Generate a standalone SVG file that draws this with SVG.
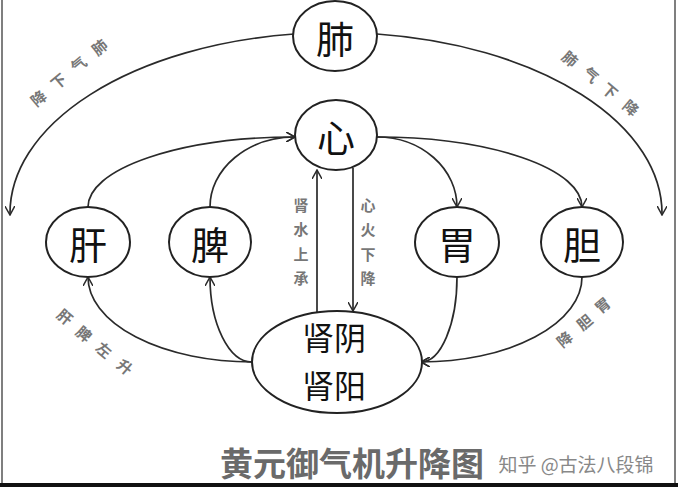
<svg xmlns="http://www.w3.org/2000/svg" width="678" height="487" viewBox="0 0 678 487">
<style>
.node{fill:#fff;stroke:#222;stroke-width:2}
.lbl{font-family:"Noto Sans CJK SC","Noto Sans",sans-serif;fill:#111;text-anchor:middle;dominant-baseline:central}
.con{fill:none;stroke:#2a2a2a;stroke-width:1.7}
.small{font-family:"Noto Sans CJK SC",sans-serif;fill:#777;font-size:15px;font-weight:700;text-anchor:middle;dominant-baseline:central}
</style>
<defs>
<marker id="ah" viewBox="0 0 10 10" refX="9" refY="5" markerWidth="10" markerHeight="10" markerUnits="userSpaceOnUse" orient="auto">
<path d="M0,0 L9,5 L0,10" fill="none" stroke="#2a2a2a" stroke-width="1.5"/>
</marker>
</defs>
<rect x="0" y="0" width="678" height="487" fill="#fff"/>
<g id="frame" stroke="#555" fill="none">
<line x1="2" y1="0" x2="2" y2="484" stroke-width="1.5"/>
<line x1="675" y1="0" x2="675" y2="484" stroke-width="1.5"/>
<rect x="0" y="483" width="678" height="4" fill="#111" stroke="none"/>
</g>
<g id="connectors">
<path class="con" d="M294 34 A326 181 0 0 0 10 215" marker-end="url(#ah)"/>
<path class="con" d="M377 34 A326 181 0 0 1 662 215" marker-end="url(#ah)"/>
<path class="con" d="M88 207 A207 70 0 0 1 295 137" marker-end="url(#ah)"/>
<path class="con" d="M210 207 A85 70 0 0 1 295 137" marker-end="url(#ah)"/>
<path class="con" d="M377 137 A80 70 0 0 1 457 207" marker-end="url(#ah)"/>
<path class="con" d="M377 137 A205 70 0 0 1 582 207" marker-end="url(#ah)"/>
<path class="con" d="M317 312 L317 170" marker-end="url(#ah)"/>
<path class="con" d="M353 168 L353 311" marker-end="url(#ah)"/>
<path class="con" d="M252 362 A164 85 0 0 1 88 277" marker-end="url(#ah)"/>
<path class="con" d="M252 362 A42 85 0 0 1 210 277" marker-end="url(#ah)"/>
<path class="con" d="M457 277 A36 85 0 0 1 421 362" marker-end="url(#ah)"/>
<path class="con" d="M582 277 A161 85 0 0 1 421 362" marker-end="url(#ah)"/>
</g>
<g id="labels">
<text class="small" x="105 84 64 44" y="50 67 84 101" rotate="-40 -40 -40 -40">肺气下降</text>
<text class="small" x="568 589 608 629" y="52 68 84 101" rotate="40 40 40 40">肺气下降</text>
<text class="small" x="63 82 102 123" y="310 327 343 360" rotate="40 40 40 40">肝脾左升</text>
<text class="small" x="608 590 570" y="308 325 342" rotate="-40 -40 -40">胃胆降</text>
<text class="small" x="301 301 301 301" y="204 228 253 277">肾水上承</text>
<text class="small" x="368 368 368 368" y="204 228 253 277">心火下降</text>
</g>
<g id="fei"><ellipse class="node" cx="335" cy="36" rx="42" ry="35"/><text class="lbl" x="335" y="36" font-size="38">肺</text></g>
<g id="xin"><ellipse class="node" cx="336" cy="135" rx="41" ry="35"/><text class="lbl" x="336" y="135" font-size="38">心</text></g>
<g id="gan"><ellipse class="node" cx="88" cy="242" rx="42" ry="35"/><text class="lbl" x="88" y="242" font-size="38">肝</text></g>
<g id="pi"><ellipse class="node" cx="210" cy="242" rx="41" ry="35"/><text class="lbl" x="210" y="242" font-size="38">脾</text></g>
<g id="wei"><ellipse class="node" cx="457" cy="242" rx="42" ry="35"/><text class="lbl" x="457" y="242" font-size="38">胃</text></g>
<g id="dan"><ellipse class="node" cx="582" cy="242" rx="41" ry="35"/><text class="lbl" x="582" y="242" font-size="38">胆</text></g>
<g id="shen"><ellipse class="node" cx="337" cy="362" rx="85" ry="51"/>
<text class="lbl" x="334" y="336" font-size="32">肾阴</text>
<text class="lbl" x="334" y="384" font-size="32">肾阳</text></g>
<g id="caption">
<text x="352" y="462" font-family="'Noto Sans CJK SC',sans-serif" font-size="33" font-weight="700" fill="#6a6a6a" text-anchor="middle" dominant-baseline="central">黄元御气机升降图</text>
<text x="576" y="463" font-family="'Noto Sans CJK SC',sans-serif" font-size="19" fill="#888" text-anchor="middle" dominant-baseline="central">知乎 @古法八段锦</text>
</g>
</svg>
